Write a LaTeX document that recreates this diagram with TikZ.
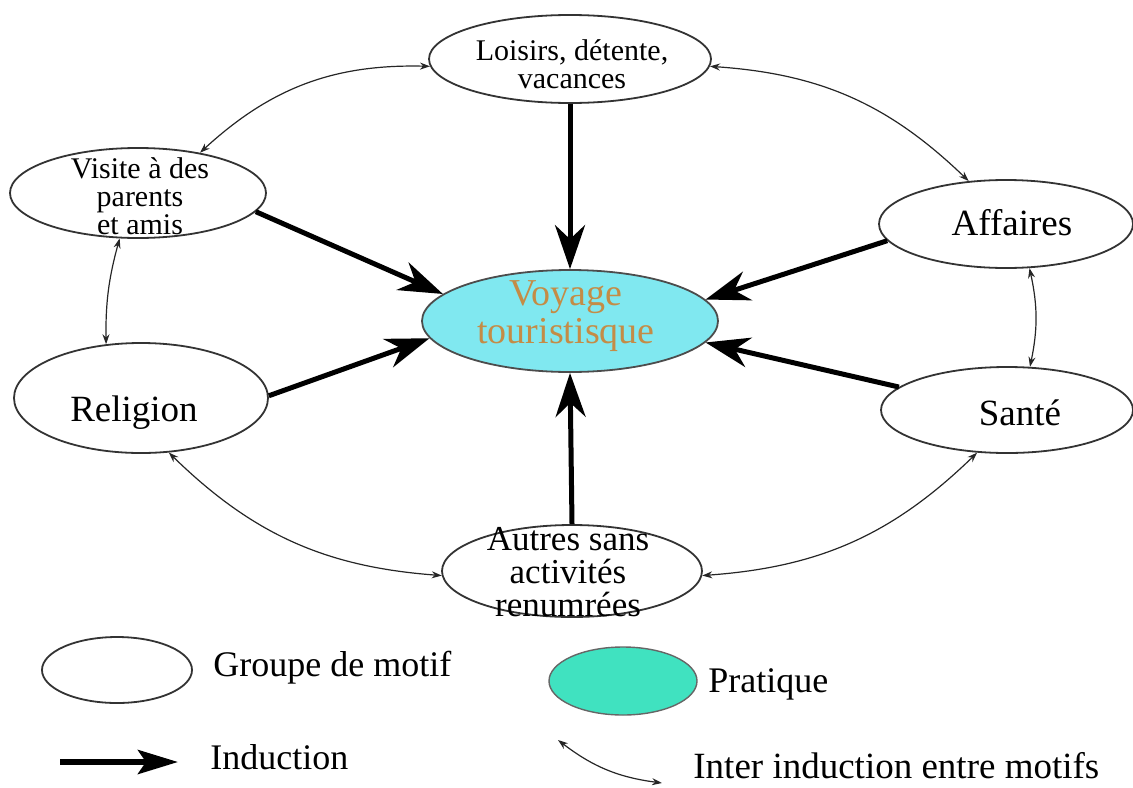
\documentclass[tikz,border=0pt]{standalone}
\usepackage{fontspec}
\setmainfont{Liberation Serif}
\usetikzlibrary{shapes.geometric,arrows.meta}
\definecolor{voyfill}{RGB}{128,232,240}
\definecolor{voytext}{RGB}{196,140,70}
\definecolor{pratfill}{RGB}{64,226,192}
\begin{document}
\begin{tikzpicture}[x=0.5pt,y=-0.5pt,
  motif/.style={ellipse, draw=black!80, line width=0.9pt, inner sep=0pt, fill=white},
  smalltxt/.style={font=\fontsize{15}{14}\selectfont, align=center, inner sep=0pt},
  bigtxt/.style={font=\fontsize{18.5}{20}\selectfont, inner sep=0pt},
  autrestxt/.style={font=\fontsize{17.5}{16.5}\selectfont, align=center, inner sep=0pt},
  voytxt/.style={font=\fontsize{19}{19}\selectfont, align=center, inner sep=0pt, text=voytext},
  legtxt/.style={font=\fontsize{18}{20}\selectfont, anchor=west, inner sep=0pt},
  induct/.style={-{Stealth[length=22pt,width=15pt,inset=7pt]}, line width=2.5pt},
  legind/.style={-{Stealth[length=20pt,width=12pt,inset=4pt]}, line width=3pt},
  inter/.style={{Stealth[length=5pt,width=3.5pt]}-{Stealth[length=5pt,width=3.5pt]}, line width=0.6pt, draw=black!85}
]
\useasboundingbox (0,0) rectangle (1133,787);

% motif ellipses
\node[motif, minimum width=141pt, minimum height=44pt] (loisirs) at (570,59) {};
\node[motif, minimum width=128pt, minimum height=45pt] (visite) at (138,193) {};
\node[motif, minimum width=127pt, minimum height=44pt] (affaires) at (1006,224) {};
\node[motif, minimum width=126pt, minimum height=43pt] (sante) at (1007,410) {};
\node[motif, minimum width=127pt, minimum height=55pt] (religion) at (141,398) {};
\node[motif, minimum width=130pt, minimum height=46pt] (autres) at (572,571) {};
\node[ellipse, draw=black!70, line width=0.9pt, fill=voyfill, inner sep=0pt,
      minimum width=148pt, minimum height=51pt] (voyage) at (570,321) {};

% texts
\node[smalltxt] (tloisirs) at (572,64) {Loisirs, détente,\\vacances};
\node[smalltxt] (tvisite) at (140,196) {Visite à des\\parents\\et amis};
\node[bigtxt] (taffaires) at (1012,223) {Affaires};
\node[bigtxt] (tsante) at (1020,413) {Santé};
\node[bigtxt] (treligion) at (134,413) {Religion};
\node[autrestxt] (tautres) at (568,572) {Autres sans\\activités\\renumrées};
\node[voytxt] (tvoyage) at (566,316) {Voyage\\touristisque};

% induction arrows
\draw[induct] (loisirs.south) -- (voyage.north);
\draw[induct] (visite.-9) -- (voyage.168);
\draw[induct] (affaires.188) -- (voyage.9);
\draw[induct] (religion.1) -- (voyage.187);
\draw[induct] (sante.168) -- (voyage.-9);
\draw[induct] (autres.north) -- (voyage.south);

% inter induction arrows
\draw[inter] (visite.33) to[bend left=22] (loisirs.183);
\draw[inter] (loisirs.-3) to[bend left=20] (affaires.131);
\draw[inter] (visite.248) to[bend right=8] (religion.123);
\draw[inter] (affaires.-62) to[bend left=12] (sante.62);
\draw[inter] (religion.-63) to[bend right=20] (autres.182);
\draw[inter] (autres.-2) to[bend right=20] (sante.235);

% legend
\node[motif, minimum width=75pt, minimum height=33pt] (leg1) at (117,670) {};
\node[legtxt] (lgroupe) at (213,668) {Groupe de motif};
\node[ellipse, draw=black!60, line width=0.7pt, fill=pratfill, inner sep=0pt,
      minimum width=74pt, minimum height=34pt] (leg2) at (623,681) {};
\node[legtxt] (lpratique) at (708,684) {Pratique};
\coordinate (ia) at (60,762);
\coordinate (ib) at (178,762);
\draw[legind] (ia) -- (ib);
\node[legtxt] (linduction) at (210,757) {Induction};
\coordinate (ta) at (558,740);
\coordinate (tb) at (662,783);
\draw[inter] (ta) to[bend right=15] (tb);
\node[legtxt, font=\fontsize{18.5}{20}\selectfont] (linter) at (693,766) {Inter induction entre motifs};
\end{tikzpicture}
\end{document}
